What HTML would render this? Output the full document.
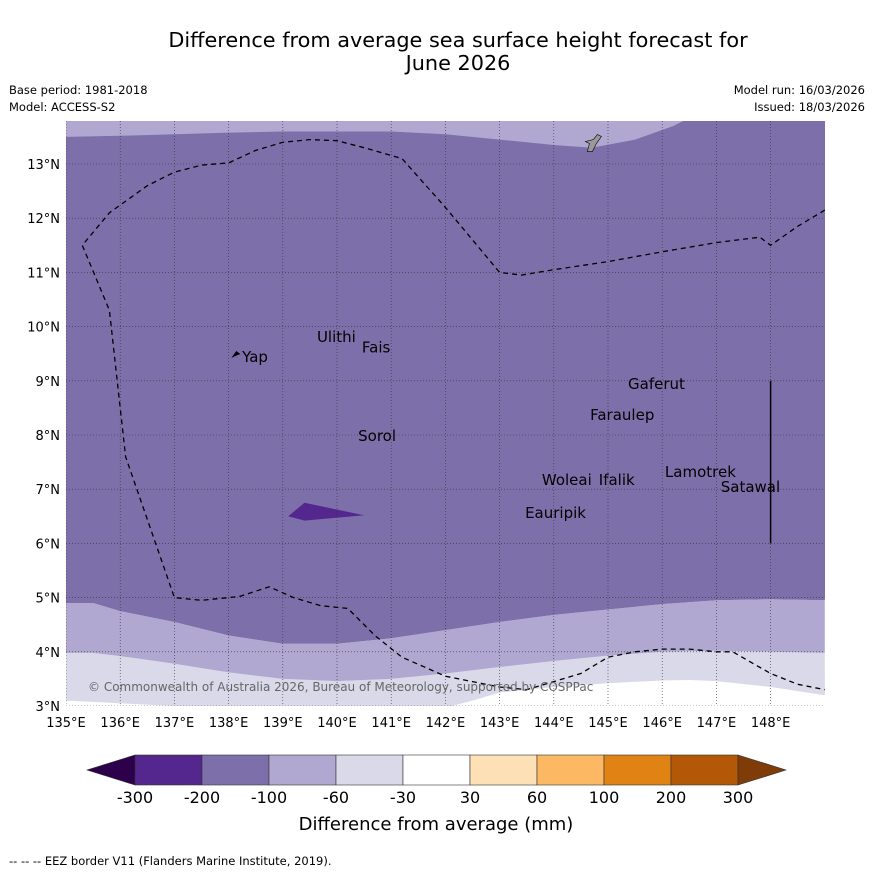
<!DOCTYPE html>
<html><head><meta charset="utf-8"><style>
body{margin:0;background:#fff;width:873px;height:873px;overflow:hidden;font-family:"Liberation Sans","DejaVu Sans",sans-serif}
</style></head><body>
<svg id="c" width="873" height="873" viewBox="0 0 873 873" xmlns="http://www.w3.org/2000/svg" font-family="DejaVu Sans, Liberation Sans, sans-serif">
<text x="458" y="47" font-size="20.8" text-anchor="middle">Difference from average sea surface height forecast for</text>
<text x="458" y="70" font-size="20.8" text-anchor="middle">June 2026</text>
<text x="9" y="94" font-size="11.5">Base period: 1981-2018</text>
<text x="9" y="111" font-size="11.5">Model: ACCESS-S2</text>
<text x="865" y="94" font-size="11.5" text-anchor="end">Model run: 16/03/2026</text>
<text x="865" y="111" font-size="11.5" text-anchor="end">Issued: 18/03/2026</text>
<defs><clipPath id="mc"><rect x="66" y="121" width="759" height="585"/></clipPath></defs>
<g id="map" clip-path="url(#mc)"></g>
<g id="over"></g>
<text x="9" y="865" font-size="11.5">--  --  -- EEZ border V11 (Flanders Marine Institute, 2019).</text>
</svg>
<script>
// ---- data ----
const lonTicks=[135,136,137,138,139,140,141,142,143,144,145,146,147,148];
const latTicks=[3,4,5,6,7,8,9,10,11,12,13];
const levels=[-300,-200,-100,-60,-30,30,60,100,200,300];
const levelColors=['#54278f','#7d70aa','#b0a8d0','#d9d9ea','#ffffff','#fee0b6','#fdb863','#e08214','#b35806'];
const northLon=[135,136,137,138,139,140,141,142,143,144,144.7,145.5,146.2,146.5];
const northLat=[13.5,13.52,13.55,13.58,13.6,13.6,13.6,13.55,13.45,13.35,13.3,13.45,13.7,13.85];
const b200Lon=[135,135.5,136,137,138,139,140,141,142,143,144,145,146,147,148,149];
const b200Lat=[4.9,4.9,4.75,4.55,4.3,4.15,4.15,4.25,4.4,4.55,4.68,4.78,4.88,4.95,4.97,4.95];
const b100Lon=[135,135.5,136,137,138,139,140,141,142,143,144,145,146,147,148,149];
const b100Lat=[3.98,3.98,3.92,3.78,3.62,3.5,3.46,3.5,3.6,3.72,3.83,3.93,4.0,4.02,4.0,3.98];
const b60Lon=[135,136,137,138,139,140,141,142,142.5,143,144,145,146,146.5,147,148,149];
const b60Lat=[3.1,3.05,3.0,2.98,2.96,2.95,2.95,2.97,3.1,3.25,3.35,3.42,3.47,3.48,3.46,3.35,3.2];
const patchLon=[139.1,139.4,140.5,139.4];
const patchLat=[6.5,6.75,6.52,6.42];
const eezLon=[149,148.5,148,147.8,147,146,145,144,143.4,143,142,141.2,140.5,140,139.5,139,138.5,138,137.5,137,136.5,135.8,135.3,135.8,136.1,137,137.5,138.2,138.75,139.2,139.7,140.2,140.7,141.2,142,143,143.5,144,144.5,145,145.5,146,146.5,147,147.3,148,148.5,149];
const eezLat=[12.15,11.85,11.5,11.65,11.55,11.38,11.2,11.05,10.95,11.0,12.2,13.1,13.3,13.43,13.45,13.4,13.25,13.02,12.98,12.85,12.6,12.1,11.5,10.3,7.6,5.0,4.95,5.02,5.2,5.0,4.85,4.8,4.3,3.9,3.55,3.35,3.3,3.45,3.6,3.9,4.0,4.05,4.05,4.0,4.0,3.6,3.4,3.3];
const places=['Ulithi','Fais','Yap','Gaferut','Faraulep','Sorol','Woleai','Ifalik','Lamotrek','Satawal','Eauripik'];
const placeLon=[139.63,140.46,138.25,145.37,144.67,140.39,143.78,144.83,146.05,147.08,143.47];
const placeLat=[9.79,9.6,9.42,8.92,8.35,7.96,7.15,7.15,7.3,7.02,6.54];
// ---- axes ----
const X0=66,PX=54.2,Y0=706;
const sx=l=>X0+(l-135)*PX, sy=l=>Y0-(l-3)*PX;
const NS='http://www.w3.org/2000/svg';
const map=document.getElementById('map'), over=document.getElementById('over');
function mk(t,a,p){const e=document.createElementNS(NS,t);for(const k in a)e.setAttribute(k,a[k]);(p||map).appendChild(e);return e;}
const line=(lo,la)=>lo.map((l,i)=>sx(l).toFixed(1)+','+sy(la[i]).toFixed(1));
function band(lo1,la1,lo2,la2){return 'M'+line(lo1,la1).join('L')+'L'+line(lo2,la2).reverse().join('L')+'Z';}
let e;
e=mk('rect',{x:60,y:110,width:800,height:610,fill:levelColors[4]});

e=mk('path',{d:band(b100Lon,b100Lat,b60Lon,b60Lat),fill:levelColors[3]});

e=mk('path',{d:band(b200Lon,b200Lat,b100Lon,b100Lat),fill:levelColors[2]});

e=mk('path',{d:band([134,150],[15,15],b200Lon,b200Lat),fill:levelColors[1]});

e=mk('path',{d:band([134].concat(northLon),[15].concat(northLat),[135,146.6],[15,15]),fill:levelColors[2]});

e=mk('path',{d:'M'+line(patchLon,patchLat).join('L')+'Z',fill:levelColors[0]});

// grid
lonTicks.forEach(l=>{e=mk('line',{x1:sx(l),x2:sx(l),y1:121,y2:706,stroke:'#333','stroke-width':0.6,'stroke-dasharray':'1,2'});
});
latTicks.forEach(l=>{e=mk('line',{x1:66,x2:825,y1:sy(l),y2:sy(l),stroke:'#333','stroke-width':0.6,'stroke-dasharray':'1,2'});
});
// eez
e=mk('polyline',{points:line(eezLon,eezLat).join(' '),fill:'none',stroke:'#000','stroke-width':1.3,'stroke-dasharray':'5,4'});

e=mk('line',{x1:sx(148),x2:sx(148),y1:sy(6),y2:sy(9),stroke:'#000','stroke-width':1.5});

// islands
e=mk('path',{d:`M${sx(138.05)},${sy(9.42)} l5,-7 l4,3 l-5,2 z`,fill:'#000'});

e=mk('path',{d:`M${sx(144.62)},${sy(13.23)} l2,-8 l-4,-2 l8,-2 l4,-5 l4,2 l-5,7 l-4,8 z`,fill:'#999',stroke:'#000','stroke-width':0.6});

places.forEach((p,i)=>{e=mk('text',{x:sx(placeLon[i]),y:sy(placeLat[i])+4,'font-size':15,fill:'#000'});e.textContent=p;
});
e=mk('text',{x:88,y:691,'font-size':12,fill:'#666'});e.textContent='© Commonwealth of Australia 2026, Bureau of Meteorology, supported by COSPPac';

lonTicks.forEach(l=>{e=mk('text',{x:sx(l),y:727,'font-size':13,'text-anchor':'middle'},over);e.textContent=l+'°E';
});
latTicks.forEach(l=>{e=mk('text',{x:60,y:sy(l)+5,'font-size':13,'text-anchor':'end'},over);e.textContent=l+'°N';
});
// colorbar
const CB0=135,CBW=67,CBY=755,CBH=30;
levelColors.forEach((c,i)=>{e=mk('rect',{x:CB0+i*CBW,y:CBY,width:CBW,height:CBH,fill:c,stroke:'#333','stroke-width':0.6},over);
});
e=mk('path',{d:`M${CB0},${CBY} L87,${CBY+15} L${CB0},${CBY+CBH}Z`,fill:'#2d004b',stroke:'#333','stroke-width':0.6},over);

const CBE=CB0+9*CBW;
e=mk('path',{d:`M${CBE},${CBY} L786,${CBY+15} L${CBE},${CBY+CBH}Z`,fill:'#7f3b08',stroke:'#333','stroke-width':0.6},over);

levels.forEach((v,i)=>{e=mk('text',{x:CB0+i*CBW,y:803,'font-size':16,'text-anchor':'middle'},over);e.textContent=v;
});
e=mk('text',{x:436,y:830,'font-size':18,'text-anchor':'middle'},over);e.textContent='Difference from average (mm)';

</script>
</body></html>
